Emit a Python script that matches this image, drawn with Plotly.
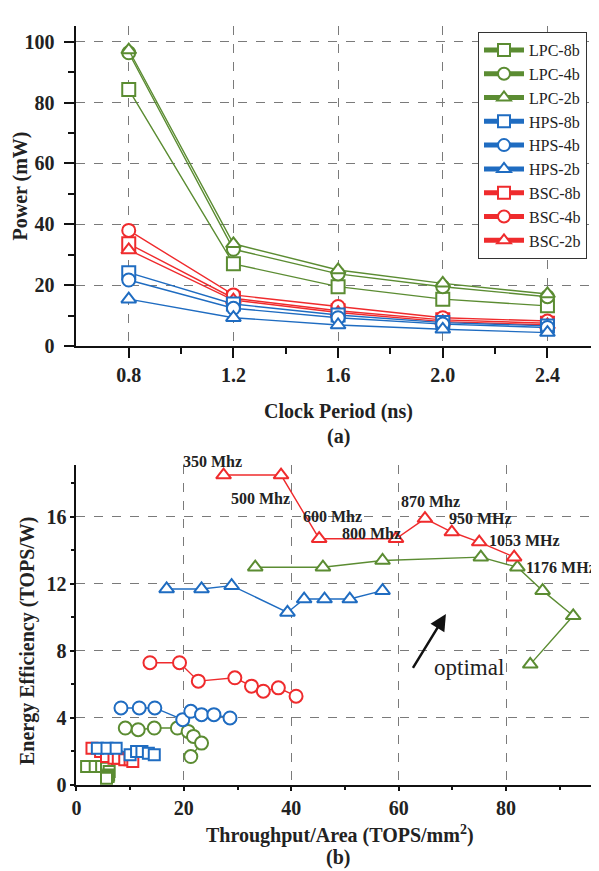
import plotly.graph_objects as go

# ---------------- data: panel (a) ----------------
period = [0.8, 1.2, 1.6, 2.0, 2.4]
period_ticks = ["0.8", "1.2", "1.6", "2.0", "2.4"]
lpc_8b = [84.3, 27.0, 19.5, 15.4, 13.2]
lpc_4b = [96.4, 31.8, 23.7, 19.5, 16.2]
lpc_2b = [97.3, 33.6, 25.0, 20.6, 17.1]
hps_8b = [24.1, 13.8, 10.2, 7.7, 6.6]
hps_4b = [21.7, 12.4, 9.3, 7.2, 6.1]
hps_2b = [15.4, 9.3, 6.9, 5.5, 4.4]
bsc_8b = [33.6, 15.7, 11.6, 8.6, 7.5]
bsc_4b = [38.0, 16.8, 13.0, 9.3, 8.2]
bsc_2b = [31.6, 15.1, 11.0, 8.0, 6.9]

# ---------------- data: panel (b) ----------------
bsc_2b_tp = [27.4, 38.1, 45.2, 59.5, 64.9, 69.9, 75.0, 81.5]
bsc_2b_ee = [18.5, 18.5, 14.7, 14.7, 15.9, 15.1, 14.5, 13.6]
lpc_2b_tp = [33.3, 45.9, 57.0, 75.3, 82.1, 86.8, 92.5, 84.5]
lpc_2b_ee = [13.0, 13.0, 13.4, 13.6, 13.0, 11.6, 10.1, 7.2]
hps_2b_tp = [16.8, 23.3, 28.9, 39.3, 42.4, 46.2, 50.9, 57.0]
hps_2b_ee = [11.7, 11.7, 11.9, 10.3, 11.1, 11.1, 11.1, 11.6]
bsc_4b_tp = [13.7, 19.2, 22.7, 29.5, 32.6, 34.8, 37.6, 40.9]
bsc_4b_ee = [7.3, 7.3, 6.2, 6.4, 5.9, 5.6, 5.8, 5.3]
hps_4b_tp = [8.3, 11.7, 14.6, 19.8, 21.3, 23.3, 25.6, 28.6]
hps_4b_ee = [4.6, 4.6, 4.6, 3.9, 4.4, 4.2, 4.2, 4.0]
lpc_4b_tp = [9.1, 11.5, 14.5, 18.8, 20.8, 21.8, 23.3, 21.3]
lpc_4b_ee = [3.4, 3.3, 3.4, 3.4, 3.2, 2.9, 2.5, 1.7]
bsc_8b_tp = [2.9, 4.5, 5.6, 7.0, 7.8, 9.0, 10.0, 10.5]
bsc_8b_ee = [2.2, 2.0, 1.7, 1.6, 1.6, 1.5, 1.5, 1.4]
hps_8b_tp = [3.9, 5.7, 7.4, 10.0, 11.2, 12.2, 13.4, 14.5]
hps_8b_ee = [2.2, 2.2, 2.2, 1.8, 2.0, 2.0, 1.9, 1.8]
lpc_8b_tp = [1.9, 3.5, 4.7, 5.6, 6.1, 6.0, 5.9, 5.6]
lpc_8b_ee = [1.1, 1.1, 1.1, 1.0, 0.8, 0.6, 0.5, 0.4]

freq_labels = ["350 Mhz", "500 Mhz", "600 Mhz", "800 Mhz", "870 Mhz",
               "950 MHz", "1053 MHz", "1176 MHz"]
freq_label_x = [25.4, 34.2, 47.6, 54.9, 66.0, 75.3, 83.4, 91.0]
freq_label_y = [19.3, 17.1, 16.0, 15.0, 16.9, 15.9, 14.6, 13.0]

GREEN = "#5b8c32"
BLUE = "#1f6cc1"
RED = "#ef2b2d"
FONT = "Liberation Serif, Times New Roman, serif"

# the page body has an 8px margin, so the figure is drawn 8px in from the
# top-left corner of the 599x871 window
OFF = 8
W, H = 599 - OFF, 871 - OFF


def xp(px):
    return (px - OFF) / W


def yp(py):
    return (H + OFF - py) / H


fig = go.Figure()

top_series = [
    ("LPC-8b", lpc_8b, GREEN, "square", 1),
    ("LPC-4b", lpc_4b, GREEN, "circle", 2),
    ("LPC-2b", lpc_2b, GREEN, "triangle-up", 3),
    ("BSC-8b", bsc_8b, RED, "square", 7),
    ("BSC-4b", bsc_4b, RED, "circle", 8),
    ("BSC-2b", bsc_2b, RED, "triangle-up", 9),
    ("HPS-8b", hps_8b, BLUE, "square", 4),
    ("HPS-4b", hps_4b, BLUE, "circle", 5),
    ("HPS-2b", hps_2b, BLUE, "triangle-up", 6),
]
for name, vals, col, sym, rank in top_series:
    fig.add_trace(go.Scatter(
        x=period, y=vals, name=name, mode="lines+markers",
        line=dict(color=col, width=1.4),
        marker=dict(symbol=sym, size=13, color="white",
                    line=dict(color=col, width=2)),
        legendrank=rank, xaxis="x", yaxis="y"))

bottom_series = [
    (lpc_8b_tp, lpc_8b_ee, GREEN, "square", 11),
    (bsc_8b_tp, bsc_8b_ee, RED, "square", 11),
    (hps_8b_tp, hps_8b_ee, BLUE, "square", 11),
    (lpc_4b_tp, lpc_4b_ee, GREEN, "circle", 13),
    (hps_4b_tp, hps_4b_ee, BLUE, "circle", 13),
    (bsc_4b_tp, bsc_4b_ee, RED, "circle", 13),
    (lpc_2b_tp, lpc_2b_ee, GREEN, "triangle-up", 13),
    (hps_2b_tp, hps_2b_ee, BLUE, "triangle-up", 13),
    (bsc_2b_tp, bsc_2b_ee, RED, "triangle-up", 13),
]
for xs, ys, col, sym, sz in bottom_series:
    fig.add_trace(go.Scatter(
        x=xs, y=ys, mode="lines+markers", showlegend=False,
        line=dict(color=col, width=1.4),
        marker=dict(symbol=sym, size=sz, color="white",
                    line=dict(color=col, width=2)),
        xaxis="x2", yaxis="y2"))

axis_common = dict(
    showline=True, linecolor="#111", linewidth=2,
    ticks="outside", tickcolor="#111", tickwidth=2,
    showgrid=True, gridcolor="#7a7a7a", griddash="dash", gridwidth=1,
    zeroline=False, automargin=False,
    tickfont=dict(family=FONT, size=20, color="#222", weight="bold"),
)

fig.update_layout(
    width=W, height=H,
    margin=dict(l=0, r=0, t=0, b=0, autoexpand=False),
    paper_bgcolor="white", plot_bgcolor="white",
    font=dict(family=FONT, color="#222"),
    xaxis=dict(domain=[xp(76.4), 1.0], range=[0.6, 2.597],
               tickvals=period, ticktext=period_ticks, ticklen=10,
               ticklabelstandoff=0,
               minor=dict(tickvals=[1.0, 1.4, 1.8, 2.2], ticks="outside",
                          ticklen=6, tickwidth=2, tickcolor="#111",
                          showgrid=False),
               anchor="y", **axis_common),
    yaxis=dict(domain=[yp(346), yp(26)], range=[0, 105.2],
               tickvals=[0, 20, 40, 60, 80, 100], ticklen=10,
               ticklabelstandoff=6,
               minor=dict(tickvals=[10, 30, 50, 70, 90], ticks="outside",
                          ticklen=6, tickwidth=2, tickcolor="#111",
                          showgrid=False),
               anchor="x", **axis_common),
    xaxis2=dict(domain=[xp(76.4), 1.0], range=[0, 97.3],
                tickvals=[0, 20, 40, 60, 80], ticklen=4,
                ticklabelstandoff=0,
                minor=dict(tickvals=[10, 30, 50, 70, 90], ticks="outside",
                           ticklen=3, tickwidth=2, tickcolor="#111",
                           showgrid=False),
                anchor="y2", **axis_common),
    yaxis2=dict(domain=[yp(785), yp(465)], range=[0, 19.1],
                tickvals=[0, 4, 8, 12, 16], ticklen=4,
                ticklabelstandoff=0,
                minor=dict(tickvals=[2, 6, 10, 14, 18], ticks="outside",
                           ticklen=3, tickwidth=2, tickcolor="#111",
                           showgrid=False),
                anchor="x2", **axis_common),
    legend=dict(x=xp(478), y=yp(32), xanchor="left", yanchor="top",
                bgcolor="white", bordercolor="#333", borderwidth=1,
                font=dict(family=FONT, size=16, color="#222"),
                tracegroupgap=0, itemwidth=40, itemsizing="constant"),
)

ann = []


def txt(text, x, y, size=20, angle=0, xref="paper", yref="paper", bold=True,
        xanchor="center"):
    ann.append(dict(text=text, x=x, y=y, xref=xref, yref=yref,
                    showarrow=False, textangle=angle,
                    xanchor=xanchor, yanchor="middle",
                    font=dict(family=FONT, size=size, color="#222",
                              weight="bold" if bold else "normal")))


txt("Power (mW)", xp(19.5), yp(186), angle=-90)
txt("Clock Period (ns)", xp(338), yp(411))
txt("(a)", xp(338), yp(436))
txt("Energy Efficiency (TOPS/W)", xp(27), yp(641), angle=-90)
txt("Throughput/Area (TOPS/mm<sup>2</sup>)", xp(340), yp(834))
txt("(b)", xp(338), yp(857))

# frequency labels (data coordinates of panel b)
for i, (lab, lx, ly) in enumerate(zip(freq_labels, freq_label_x, freq_label_y)):
    if ly > 19.1:
        # above the axis range: place via paper y
        txt(lab, lx, yp(785 - ly * 320 / 19.1), size=16, xref="x2",
            yref="paper")
    elif i == len(freq_labels) - 1:
        txt(lab, xp(598), ly, size=16, xref="paper", yref="y2",
            xanchor="right")
    else:
        txt(lab, lx, ly, size=16, xref="x2", yref="y2")

txt("optimal", 73.1, 7.0, size=23, xref="x2", yref="y2", bold=False)
ann.append(dict(x=68.8, y=10.2, ax=62.1, ay=6.7, xref="x2", yref="y2",
                axref="x2", ayref="y2", showarrow=True, arrowhead=2,
                arrowsize=1.3, arrowwidth=2.5, arrowcolor="#111", text=" "))

fig.update_layout(annotations=ann)
fig.write_html("out.html")
